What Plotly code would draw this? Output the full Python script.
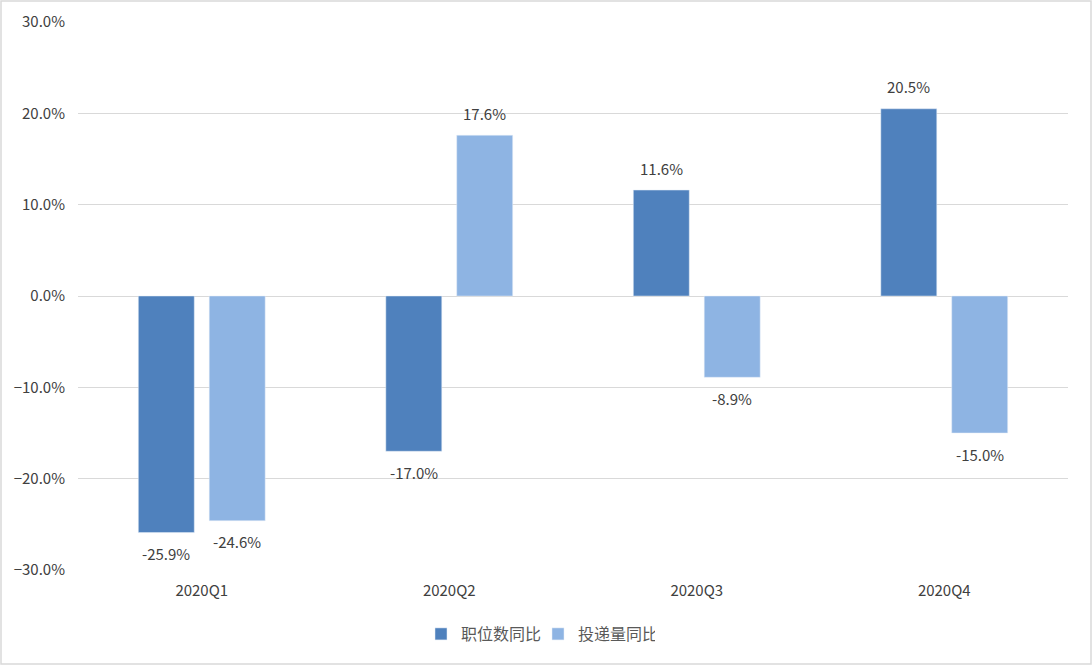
import plotly.graph_objects as go

quarters = ["2020Q1", "2020Q2", "2020Q3", "2020Q4"]
jobs_yoy = [-25.9, -17.0, 11.6, 20.5]
applications_yoy = [-24.6, 17.6, -8.9, -15.0]

font_family = "Noto Sans CJK SC, Liberation Sans, sans-serif"
text_color = "#404040"

fig = go.Figure()
fig.add_trace(go.Bar(x=quarters, y=jobs_yoy, name="职位数同比",
                     marker_color="#4F81BD", cliponaxis=False))
fig.add_trace(go.Bar(x=quarters, y=applications_yoy, name="投递量同比",
                     marker_color="#8EB4E3", cliponaxis=False))

# data labels, placed from the data values with a pixel offset from bar ends
for series, dx in ((jobs_yoy, -35.5), (applications_yoy, 35.5)):
    for q, v in zip(quarters, series):
        fig.add_annotation(x=q, y=v, text=f"{v:.1f}%", showarrow=False,
                           xshift=dx, yshift=22 if v >= 0 else -21,
                           yanchor="middle",
                           font=dict(size=15, color=text_color))

W, H = 1092, 665
ml, mr, mt, mb = 78, 24, 22, 95
pw, ph = W - ml - mr, H - mt - mb

fig.update_layout(
    width=W, height=H,
    margin=dict(l=ml, r=mr, t=mt, b=mb, autoexpand=False),
    paper_bgcolor="white", plot_bgcolor="white",
    font=dict(family=font_family, color=text_color, size=15),
    barmode="group", bargap=0.427, bargroupgap=0.211,
    showlegend=True,
    legend=dict(orientation="h", x=(W / 2 - 8 - ml) / pw, xanchor="center",
                y=-64 / ph, yanchor="middle",
                font=dict(size=16, color="#595959"),
                itemwidth=30, entrywidth=72, traceorder="normal"),
    xaxis=dict(showgrid=False, ticks="", showline=False, ticklabelstandoff=10,
               tickfont=dict(size=15, color=text_color)),
    yaxis=dict(range=[-30, 30], dtick=10, tickformat=".1f", ticksuffix="%",
               showgrid=True, gridcolor="#D9D9D9", gridwidth=1.3,
               zeroline=True, zerolinecolor="#D9D9D9", zerolinewidth=1.3,
               showline=False, ticks="", ticklabelstandoff=12,
               tickfont=dict(size=15, color=text_color)),
    shapes=[dict(type="rect", xref="paper", yref="paper",
                 x0=-(ml - 1) / pw, x1=1 + (mr - 1) / pw,
                 y0=-(mb - 1) / ph, y1=1 + (mt - 1) / ph,
                 line=dict(color="#D9D9D9", width=1.5))],
)

fig.write_html("out.html", config={"displayModeBar": False},
               post_script="document.body.style.margin='0';document.body.style.overflow='hidden';")
